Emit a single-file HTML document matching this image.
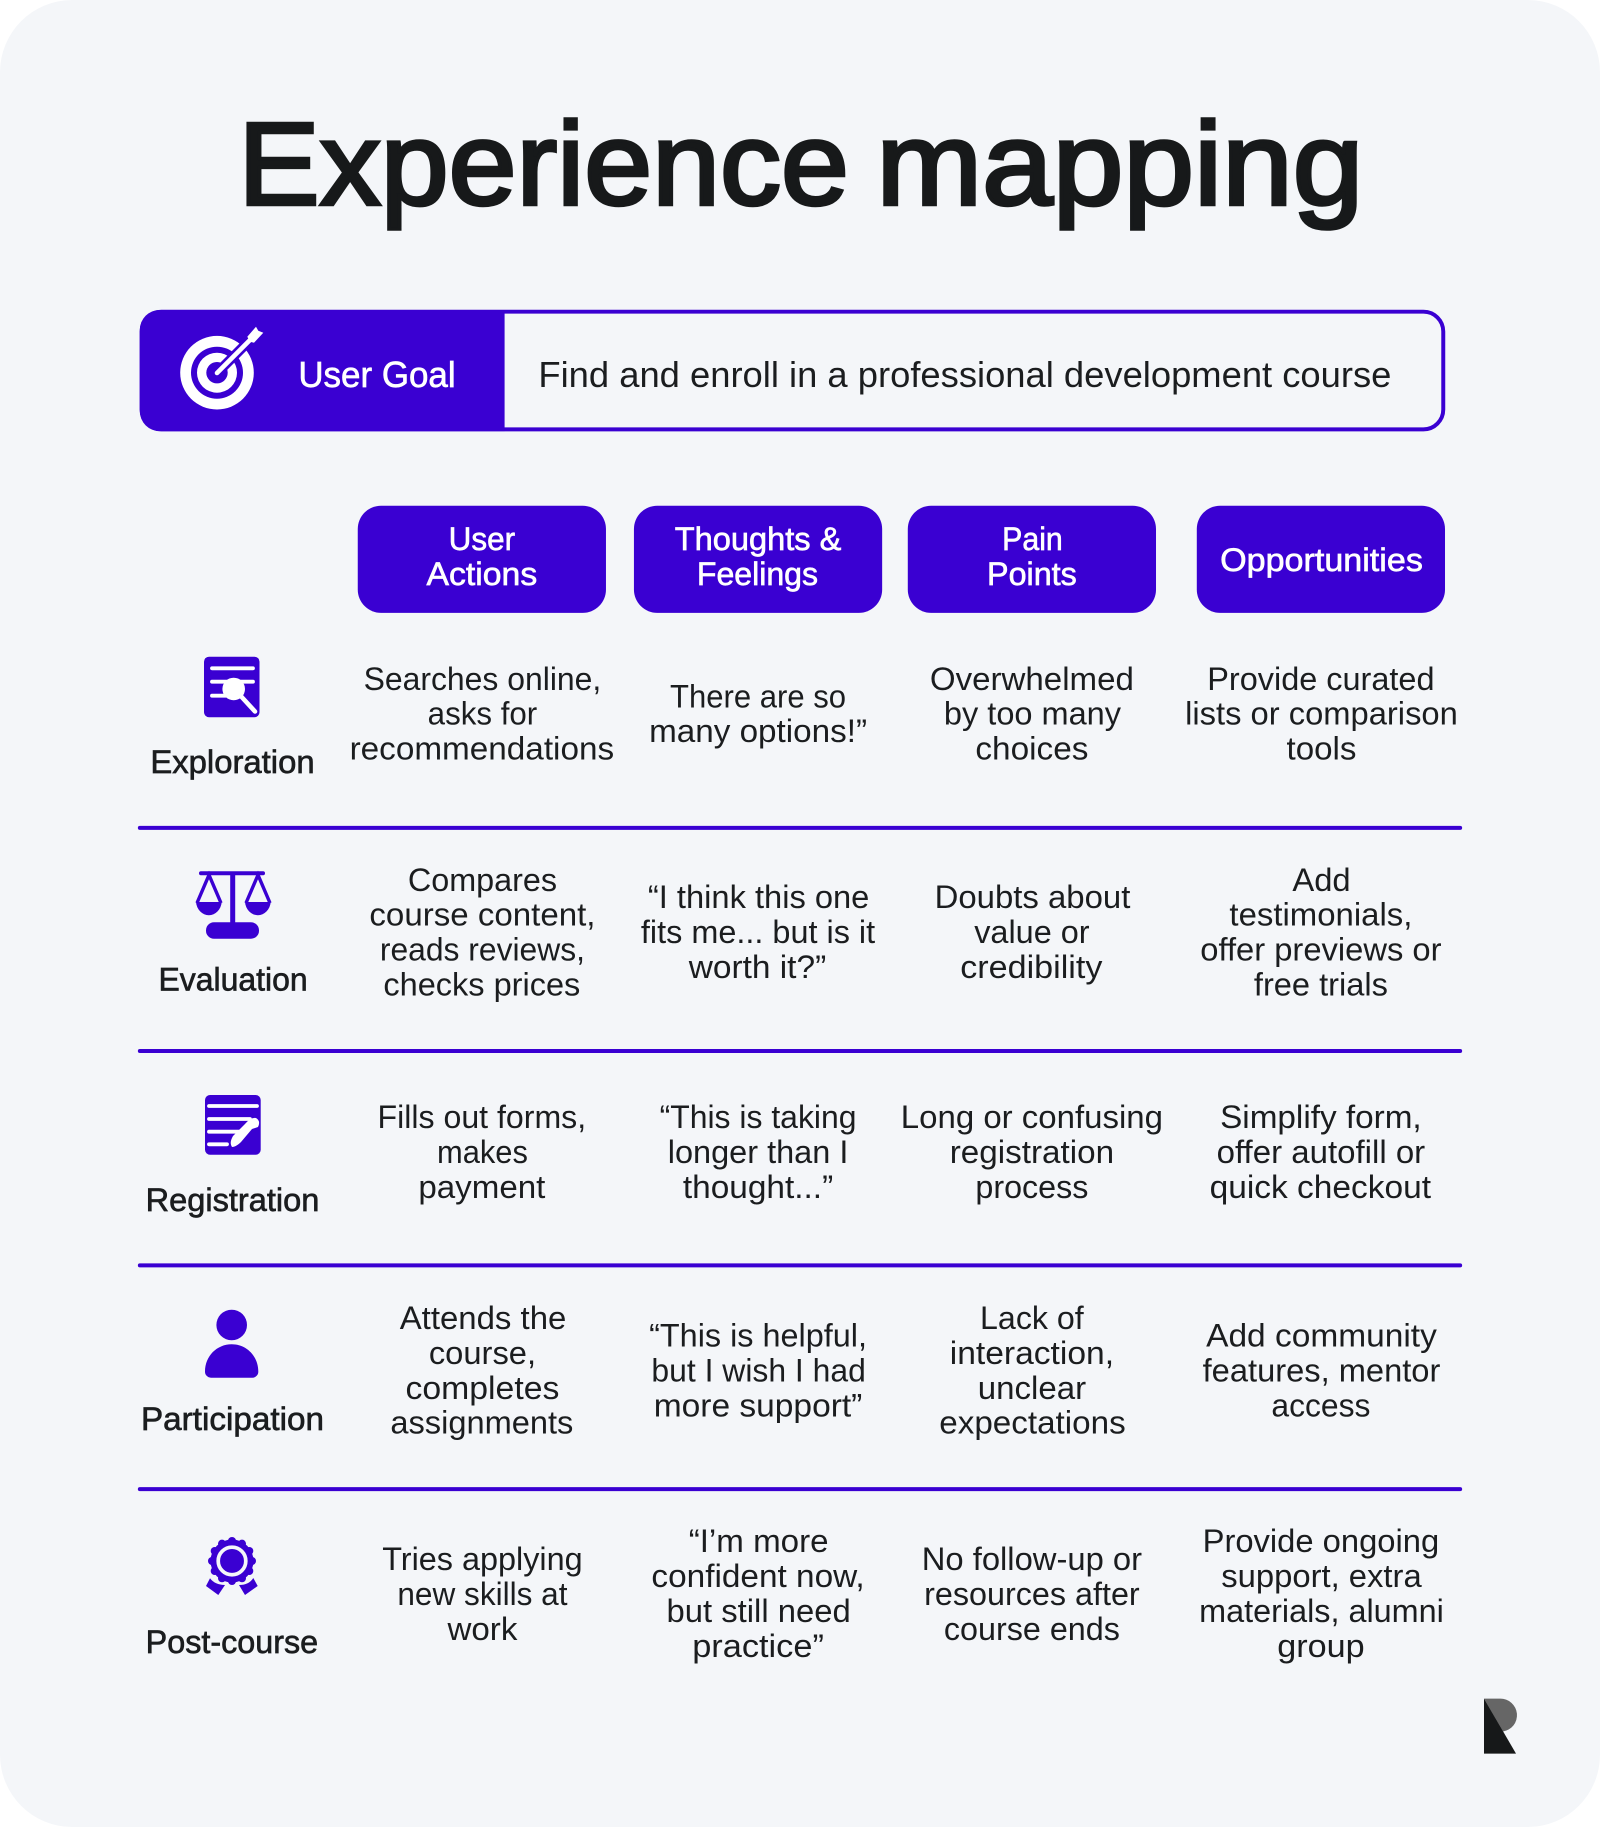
<!DOCTYPE html>
<html><head><meta charset="utf-8"><style>
html,body{margin:0;padding:0;background:#fff}
svg{display:block;width:1600px;height:1827px}
text{font-family:"Liberation Sans",sans-serif;font-size:28px;fill:#1b1d1f}
.m{stroke:#1b1d1f;stroke-width:.55px}
.w{fill:#fff;stroke:#fff;stroke-width:.55px}
.t{font-size:101px;stroke:#17191a;fill:#17191a;stroke-width:3px}
</style></head><body>
<svg xmlns="http://www.w3.org/2000/svg" viewBox="0 0 1373 1568" preserveAspectRatio="none">
<rect width="1373" height="1568" rx="62" fill="#f4f6f9"/>
<text class="t" x="204.5" y="175.5" textLength="524" lengthAdjust="spacingAndGlyphs">Experience</text>
<text class="t" x="752" y="175.5" textLength="418" lengthAdjust="spacingAndGlyphs">mapping</text>

<rect x="121.5" y="267.5" width="1117" height="101" rx="17" fill="#f4f6f9" stroke="#3a00d2" stroke-width="3.4"/>
<path d="M137 266H433V370H137A17 17 0 0 1 120 353V283A17 17 0 0 1 137 266Z" fill="#3a00d2"/>
<text class="w" x="256" y="332" textLength="135" lengthAdjust="spacingAndGlyphs" style="font-size:31px">User Goal</text>
<text x="462" y="332" textLength="732" lengthAdjust="spacingAndGlyphs" style="font-size:31px">Find and enroll in a professional development course</text>

<g fill="#3a00d2">
<rect x="307" y="434" width="213" height="92" rx="20"/>
<rect x="544" y="434" width="213" height="92" rx="20"/>
<rect x="779" y="434" width="213" height="92" rx="20"/>
<rect x="1027" y="434" width="213" height="92" rx="20"/>
</g>
<g>
<text class="w" x="385" y="472" textLength="57" lengthAdjust="spacingAndGlyphs">User</text>
<text class="w" x="366" y="502" textLength="95" lengthAdjust="spacingAndGlyphs">Actions</text>
<text class="w" x="579" y="472" textLength="143" lengthAdjust="spacingAndGlyphs">Thoughts &amp;</text>
<text class="w" x="598" y="502" textLength="104" lengthAdjust="spacingAndGlyphs">Feelings</text>
<text class="w" x="860" y="472" textLength="52" lengthAdjust="spacingAndGlyphs">Pain</text>
<text class="w" x="847" y="502" textLength="77" lengthAdjust="spacingAndGlyphs">Points</text>
<text class="w" x="1047" y="490" textLength="174" lengthAdjust="spacingAndGlyphs">Opportunities</text>
</g>

<g stroke="#3a00d2" stroke-width="3.4" stroke-linecap="round">
<line x1="120" x2="1253" y1="710.5" y2="710.5"/>
<line x1="120" x2="1253" y1="902" y2="902"/>
<line x1="120" x2="1253" y1="1086" y2="1086"/>
<line x1="120" x2="1253" y1="1278" y2="1278"/>
</g>

<g transform="translate(0,-.7)">
<text class="m" x="129" y="664" textLength="141" lengthAdjust="spacingAndGlyphs">Exploration</text>
<text class="m" x="136" y="851" textLength="128" lengthAdjust="spacingAndGlyphs">Evaluation</text>
<text class="m" x="125" y="1040" textLength="149" lengthAdjust="spacingAndGlyphs">Registration</text>
<text class="m" x="121" y="1228" textLength="157" lengthAdjust="spacingAndGlyphs">Participation</text>
<text class="m" x="125" y="1419.5" textLength="148" lengthAdjust="spacingAndGlyphs">Post-course</text>
</g>

<g>
<text x="312" y="592" textLength="204" lengthAdjust="spacingAndGlyphs">Searches online,</text>
<text x="367" y="622" textLength="94" lengthAdjust="spacingAndGlyphs">asks for</text>
<text x="300" y="652" textLength="227" lengthAdjust="spacingAndGlyphs">recommendations</text>
<text x="575" y="607" textLength="151" lengthAdjust="spacingAndGlyphs">There are so</text>
<text x="557" y="637" textLength="187" lengthAdjust="spacingAndGlyphs">many options!”</text>
<text x="798" y="592" textLength="175" lengthAdjust="spacingAndGlyphs">Overwhelmed</text>
<text x="810" y="622" textLength="152" lengthAdjust="spacingAndGlyphs">by too many</text>
<text x="837" y="652" textLength="97" lengthAdjust="spacingAndGlyphs">choices</text>
<text x="1036" y="592" textLength="195" lengthAdjust="spacingAndGlyphs">Provide curated</text>
<text x="1017" y="622" textLength="234" lengthAdjust="spacingAndGlyphs">lists or comparison</text>
<text x="1104" y="652" textLength="60" lengthAdjust="spacingAndGlyphs">tools</text>
</g>
<g transform="translate(0,-.5)">
<text x="350" y="765" textLength="128" lengthAdjust="spacingAndGlyphs">Compares</text>
<text x="317" y="795" textLength="194" lengthAdjust="spacingAndGlyphs">course content,</text>
<text x="326" y="825" textLength="176" lengthAdjust="spacingAndGlyphs">reads reviews,</text>
<text x="329" y="855" textLength="169" lengthAdjust="spacingAndGlyphs">checks prices</text>
<text x="556" y="780" textLength="190" lengthAdjust="spacingAndGlyphs">“I think this one</text>
<text x="550" y="810" textLength="201" lengthAdjust="spacingAndGlyphs">fits me... but is it</text>
<text x="591" y="840" textLength="118" lengthAdjust="spacingAndGlyphs">worth it?”</text>
<text x="802" y="780" textLength="168" lengthAdjust="spacingAndGlyphs">Doubts about</text>
<text x="836" y="810" textLength="99" lengthAdjust="spacingAndGlyphs">value or</text>
<text x="824" y="840" textLength="122" lengthAdjust="spacingAndGlyphs">credibility</text>
<text x="1109" y="765" textLength="50" lengthAdjust="spacingAndGlyphs">Add</text>
<text x="1055" y="795" textLength="157" lengthAdjust="spacingAndGlyphs">testimonials,</text>
<text x="1030" y="825" textLength="207" lengthAdjust="spacingAndGlyphs">offer previews or</text>
<text x="1076" y="855" textLength="115" lengthAdjust="spacingAndGlyphs">free trials</text>
</g>
<g>
<text x="324" y="968" textLength="179" lengthAdjust="spacingAndGlyphs">Fills out forms,</text>
<text x="375" y="998" textLength="78" lengthAdjust="spacingAndGlyphs">makes</text>
<text x="359" y="1028" textLength="109" lengthAdjust="spacingAndGlyphs">payment</text>
<text x="566" y="968" textLength="169" lengthAdjust="spacingAndGlyphs">“This is taking</text>
<text x="573" y="998" textLength="155" lengthAdjust="spacingAndGlyphs">longer than I</text>
<text x="586" y="1028" textLength="129" lengthAdjust="spacingAndGlyphs">thought...”</text>
<text x="773" y="968" textLength="225" lengthAdjust="spacingAndGlyphs">Long or confusing</text>
<text x="815" y="998" textLength="141" lengthAdjust="spacingAndGlyphs">registration</text>
<text x="837" y="1028" textLength="97" lengthAdjust="spacingAndGlyphs">process</text>
<text x="1047" y="968" textLength="173" lengthAdjust="spacingAndGlyphs">Simplify form,</text>
<text x="1044" y="998" textLength="179" lengthAdjust="spacingAndGlyphs">offer autofill or</text>
<text x="1038" y="1028" textLength="190" lengthAdjust="spacingAndGlyphs">quick checkout</text>
</g>
<g transform="translate(0,-.5)">
<text x="343" y="1141" textLength="143" lengthAdjust="spacingAndGlyphs">Attends the</text>
<text x="368" y="1171" textLength="92" lengthAdjust="spacingAndGlyphs">course,</text>
<text x="348" y="1201" textLength="132" lengthAdjust="spacingAndGlyphs">completes</text>
<text x="335" y="1231" textLength="157" lengthAdjust="spacingAndGlyphs">assignments</text>
<text x="557" y="1156" textLength="187" lengthAdjust="spacingAndGlyphs">“This is helpful,</text>
<text x="559" y="1186" textLength="184" lengthAdjust="spacingAndGlyphs">but I wish I had</text>
<text x="561" y="1216" textLength="179" lengthAdjust="spacingAndGlyphs">more support”</text>
<text x="841" y="1141" textLength="89" lengthAdjust="spacingAndGlyphs">Lack of</text>
<text x="815" y="1171" textLength="141" lengthAdjust="spacingAndGlyphs">interaction,</text>
<text x="839" y="1201" textLength="93" lengthAdjust="spacingAndGlyphs">unclear</text>
<text x="806" y="1231" textLength="160" lengthAdjust="spacingAndGlyphs">expectations</text>
<text x="1035" y="1156" textLength="198" lengthAdjust="spacingAndGlyphs">Add community</text>
<text x="1032" y="1186" textLength="204" lengthAdjust="spacingAndGlyphs">features, mentor</text>
<text x="1091" y="1216" textLength="85" lengthAdjust="spacingAndGlyphs">access</text>

<text x="328" y="1348" textLength="172" lengthAdjust="spacingAndGlyphs">Tries applying</text>
<text x="341" y="1378" textLength="146" lengthAdjust="spacingAndGlyphs">new skills at</text>
<text x="384" y="1408" textLength="60" lengthAdjust="spacingAndGlyphs">work</text>
<text x="791" y="1348" textLength="189" lengthAdjust="spacingAndGlyphs">No follow-up or</text>
<text x="793" y="1378" textLength="185" lengthAdjust="spacingAndGlyphs">resources after</text>
<text x="810" y="1408" textLength="151" lengthAdjust="spacingAndGlyphs">course ends</text>
</g>
<g>
<text x="591" y="1332" textLength="120" lengthAdjust="spacingAndGlyphs">“I’m more</text>
<text x="559" y="1362" textLength="183" lengthAdjust="spacingAndGlyphs">confident now,</text>
<text x="572" y="1392" textLength="158" lengthAdjust="spacingAndGlyphs">but still need</text>
<text x="594" y="1422" textLength="113" lengthAdjust="spacingAndGlyphs">practice”</text>
<text x="1032" y="1332" textLength="203" lengthAdjust="spacingAndGlyphs">Provide ongoing</text>
<text x="1048" y="1362" textLength="172" lengthAdjust="spacingAndGlyphs">support, extra</text>
<text x="1029" y="1392" textLength="210" lengthAdjust="spacingAndGlyphs">materials, alumni</text>
<text x="1096" y="1422" textLength="75" lengthAdjust="spacingAndGlyphs">group</text>
</g>

<g transform="scale(.85813 .85823)">
<!-- target -->
<circle cx="217" cy="372.7" r="36.8" fill="#fff"/>
<circle cx="217" cy="372.7" r="26" fill="#3a00d2"/>
<circle cx="217" cy="372.7" r="20" fill="#fff"/>
<circle cx="217" cy="372.7" r="10.7" fill="#3a00d2"/>
<line x1="218" y1="372" x2="250" y2="340" stroke="#3a00d2" stroke-width="10"/>
<line x1="217" y1="373" x2="250" y2="340" stroke="#fff" stroke-width="4.6" stroke-linecap="round"/>
<path d="M247.3 336.7L256 326.7L258.3 330.7L263.3 332.7L254 342.7L250 341.7Z" fill="#fff"/>

<!-- exploration -->
<rect x="204" y="656.7" width="55.5" height="60.5" rx="5" fill="#3a00d2"/>
<g stroke="#fff" stroke-width="3.8" stroke-linecap="round">
<line x1="212" x2="253" y1="668.3" y2="668.3"/>
<line x1="212" x2="253" y1="681.7" y2="681.7"/>
<line x1="212" x2="226" y1="695.7" y2="695.7"/>
<line x1="238" x2="255" y1="693" y2="711.5" stroke-width="4.6"/>
</g>
<circle cx="233.7" cy="689" r="11.3" fill="#fff"/>

<!-- evaluation -->
<g fill="#3a00d2">
<rect x="199" y="871.3" width="66" height="4" rx="2"/>
<rect x="230.2" y="873" width="5" height="52"/>
<rect x="206" y="922.3" width="53" height="16.4" rx="8"/>
<path d="M196 902H221.7A12.9 14.5 0 0 1 196 902Z"/>
<path d="M245 902H270.7A12.9 14.5 0 0 1 245 902Z"/>
</g>
<g fill="none" stroke="#3a00d2" stroke-width="3.4">
<path d="M197 903L209 875L221 903"/>
<path d="M246 903L258 875L270 903"/>
</g>

<!-- registration -->
<rect x="205" y="1095" width="55.7" height="59.7" rx="5" fill="#3a00d2"/>
<g stroke="#fff" stroke-width="3.8" stroke-linecap="round">
<line x1="209" x2="257" y1="1106" y2="1106"/>
<line x1="209" x2="250" y1="1119" y2="1119"/>
<line x1="209" x2="240" y1="1131.7" y2="1131.7"/>
<line x1="209" x2="227" y1="1144.3" y2="1144.3"/>
</g>
<path d="M232 1147Q229 1143 233 1136L245 1124Q251 1117 256 1118Q261 1121 258 1127L252 1129L241 1142Q236 1147 232 1147Z" fill="#fff"/>

<!-- participation -->
<circle cx="231.7" cy="1325" r="15.3" fill="#3a00d2"/>
<path d="M211 1377.7A6 6 0 0 1 205 1371.7C205 1356 217 1344.3 231.7 1344.3S258.3 1356 258.3 1371.7A6 6 0 0 1 252.3 1377.7Z" fill="#3a00d2"/>

<!-- post-course -->
<g fill="#3a00d2">
<circle cx="232" cy="1561" r="21.5"/>
<circle cx="232" cy="1541" r="4"/><circle cx="242" cy="1543.7" r="4"/><circle cx="249.3" cy="1551" r="4"/><circle cx="252" cy="1561" r="4"/><circle cx="249.3" cy="1571" r="4"/><circle cx="242" cy="1578.3" r="4"/><circle cx="232" cy="1581" r="4"/><circle cx="222" cy="1578.3" r="4"/><circle cx="214.7" cy="1571" r="4"/><circle cx="212" cy="1561" r="4"/><circle cx="214.7" cy="1551" r="4"/><circle cx="222" cy="1543.7" r="4"/>
<path d="M210 1578.3L206 1586L218.3 1595L225 1585Q215 1585 210 1578.3Z"/>
<path d="M253.3 1578L257.7 1586L245 1595L239 1585Q249 1585 253.3 1578Z"/>
</g>
<circle cx="232" cy="1561" r="13.8" fill="none" stroke="#f4f6f9" stroke-width="3.7"/>

<!-- logo -->
<path d="M1484 1698.7H1500A16.5 16.5 0 0 1 1503 1731.5Z" fill="#666"/>
<path d="M1484 1698.7L1516 1753.7H1484Z" fill="#161819"/>
</g>
</svg>
</body></html>
